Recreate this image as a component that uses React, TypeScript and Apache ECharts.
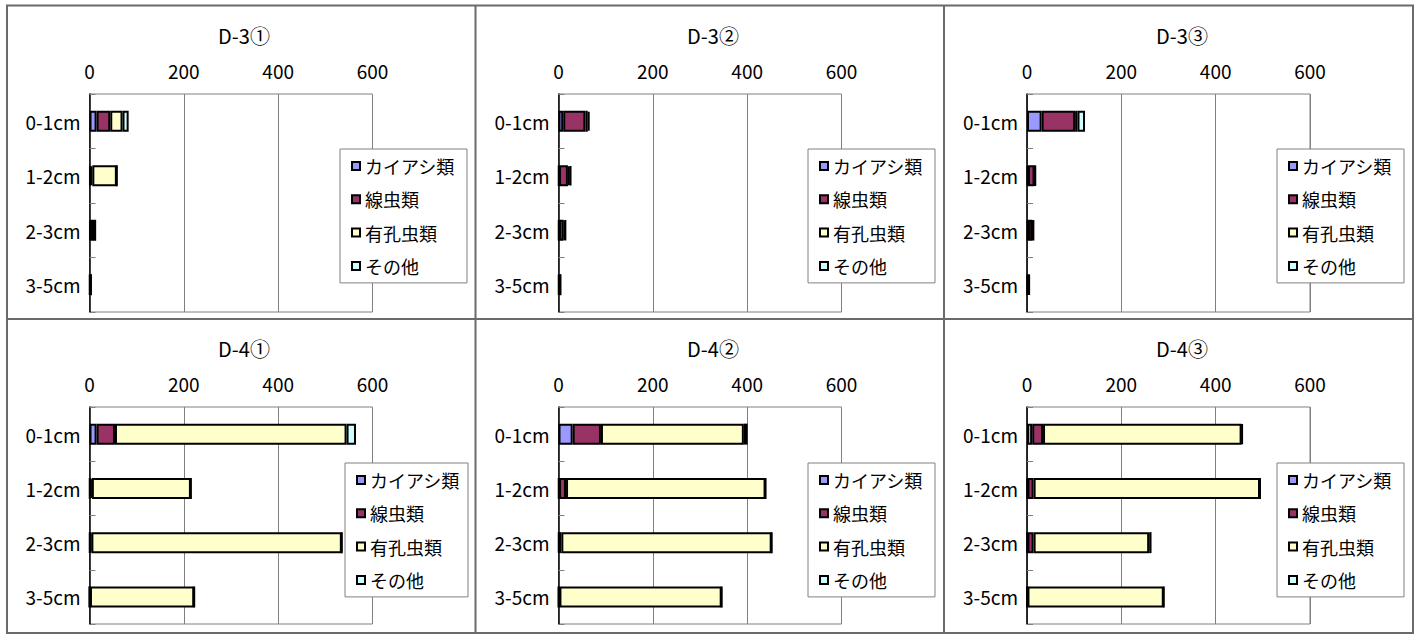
import React, { useEffect, useRef } from "react";
import * as echarts from "echarts";

const categories = ["0-1cm", "1-2cm", "2-3cm", "3-5cm"];
const seriesNames = ["カイアシ類", "線虫類", "有孔虫類", "その他"];
const seriesColors = ["#9999FF", "#993366", "#FFFFCC", "#CCFFFF"];
const panelTitles = ["D-3①", "D-3②", "D-3③", "D-4①", "D-4②", "D-4③"];
const xTicks = { min: 0, max: 600, interval: 200 };

// values per panel: [カイアシ類, 線虫類, 有孔虫類, その他], each over categories
const d3_1_copepod = [15, 2, 2, 1];
const d3_1_nematode = [29, 4, 8, 1];
const d3_1_foram = [26, 52, 2, 1];
const d3_1_other = [13, 0, 0, 0];

const d3_2_copepod = [10, 1, 1, 1];
const d3_2_nematode = [47, 19, 10, 2];
const d3_2_foram = [5, 4, 3, 1];
const d3_2_other = [4, 3, 1, 0];

const d3_3_copepod = [31, 2, 2, 1];
const d3_3_nematode = [71, 14, 9, 2];
const d3_3_foram = [5, 1, 2, 1];
const d3_3_other = [16, 1, 1, 1];

const d4_1_copepod = [15, 1, 1, 0];
const d4_1_nematode = [39, 4, 3, 1];
const d4_1_foram = [491, 210, 531, 221];
const d4_1_other = [20, 0, 0, 0];

const d4_2_copepod = [30, 1, 1, 0];
const d4_2_nematode = [60, 15, 5, 2];
const d4_2_foram = [303, 423, 446, 344];
const d4_2_other = [8, 0, 0, 0];

const d4_3_copepod = [11, 1, 1, 0];
const d4_3_nematode = [23, 13, 13, 1];
const d4_3_foram = [421, 480, 245, 289];
const d4_3_other = [2, 0, 5, 0];

const panelData = [
  [d3_1_copepod, d3_1_nematode, d3_1_foram, d3_1_other],
  [d3_2_copepod, d3_2_nematode, d3_2_foram, d3_2_other],
  [d3_3_copepod, d3_3_nematode, d3_3_foram, d3_3_other],
  [d4_1_copepod, d4_1_nematode, d4_1_foram, d4_1_other],
  [d4_2_copepod, d4_2_nematode, d4_2_foram, d4_2_other],
  [d4_3_copepod, d4_3_nematode, d4_3_foram, d4_3_other],
];

const FONT = "'Noto Sans CJK JP', 'Noto Sans', sans-serif";

export default function App() {
  const ref = useRef<HTMLDivElement>(null);

  useEffect(() => {
    if (!ref.current) return;
    const chart = echarts.init(ref.current, undefined, { renderer: "svg" });

    const gridLefts = [89.5, 558.5, 1027];
    const gridTops = [94, 407];
    const gridHeights = [218, 217];
    const legendLefts = [340, 808, 1277, 345, 808, 1277];
    const legendTops = [149, 463];
    const titleXs = [244, 713, 1182];
    const titleYs = [35, 348];

    const grids: any[] = [];
    const xAxes: any[] = [];
    const yAxes: any[] = [];
    const legends: any[] = [];
    const series: any[] = [];
    const graphics: any[] = [];

    panelData.forEach((data, p) => {
      const col = p % 3;
      const row = Math.floor(p / 3);
      grids.push({
        left: gridLefts[col],
        top: gridTops[row],
        width: 283,
        height: gridHeights[row],
        show: true,
        borderColor: "#808080",
        borderWidth: 1,
        backgroundColor: "#ffffff",
      });
      xAxes.push({
        type: "value",
        gridIndex: p,
        position: "top",
        min: xTicks.min,
        max: xTicks.max,
        interval: xTicks.interval,
        axisLine: { show: false },
        axisTick: { show: false },
        splitLine: { show: true, lineStyle: { color: "#808080", width: 1 } },
        axisLabel: { fontSize: 19, color: "#000", fontFamily: FONT, margin: 14 },
      });
      yAxes.push({
        type: "category",
        gridIndex: p,
        inverse: true,
        data: categories,
        axisLine: { show: true, lineStyle: { color: "#000", width: 1.5 } },
        axisTick: { show: true, inside: true, length: 6, lineStyle: { color: "#808080" } },
        axisLabel: { fontSize: 19, color: "#000", fontFamily: FONT, margin: 9 },
        splitLine: { show: false },
      });
      legends.push({
        orient: "vertical",
        left: legendLefts[p],
        top: legendTops[row],
        data: seriesNames,
        selectedMode: false,
        icon: "rect",
        itemWidth: 8,
        itemHeight: 8,
        itemGap: 15.3,
        padding: [8, row === 1 && col === 0 ? 8 : 12, 8, 11],
        borderColor: "#808080",
        borderWidth: 1,
        backgroundColor: "#ffffff",
        textStyle: { fontSize: 18, lineHeight: 18, color: "#000", fontFamily: FONT },
      });
      data.forEach((vals, s) => {
        series.push({
          type: "bar",
          name: seriesNames[s],
          xAxisIndex: p,
          yAxisIndex: p,
          stack: "panel" + p,
          barWidth: 21,
          data: vals,
          itemStyle: { color: seriesColors[s], borderColor: "#000", borderWidth: 2 },
          emphasis: { disabled: true },
        });
      });
      graphics.push({
        type: "text",
        x: titleXs[col],
        y: titleYs[row],
        style: {
          text: panelTitles[p],
          fontSize: 20,
          fontFamily: FONT,
          fill: "#000",
          textAlign: "center",
          textVerticalAlign: "middle",
        },
      });
    });

    const borderStyle = { stroke: "#6a6a6a", lineWidth: 2 };
    graphics.push(
      { type: "rect", shape: { x: 7, y: 5.5, width: 1406, height: 627.5 }, style: { ...borderStyle, fill: "none" }, z: 100 },
      { type: "line", shape: { x1: 475.5, y1: 5.5, x2: 475.5, y2: 633 }, style: borderStyle, z: 100 },
      { type: "line", shape: { x1: 944, y1: 5.5, x2: 944, y2: 633 }, style: borderStyle, z: 100 },
      { type: "line", shape: { x1: 7, y1: 319, x2: 1413, y2: 319 }, style: borderStyle, z: 100 }
    );

    chart.setOption({
      animation: false,
      backgroundColor: "#ffffff",
      textStyle: { fontFamily: FONT },
      grid: grids,
      xAxis: xAxes,
      yAxis: yAxes,
      legend: legends,
      series,
      graphic: graphics,
    });

    return () => chart.dispose();
  }, []);

  return (
    <div
      ref={ref}
      style={{ position: "absolute", left: 0, top: 0, width: 1419, height: 635, background: "#fff" }}
    />
  );
}
